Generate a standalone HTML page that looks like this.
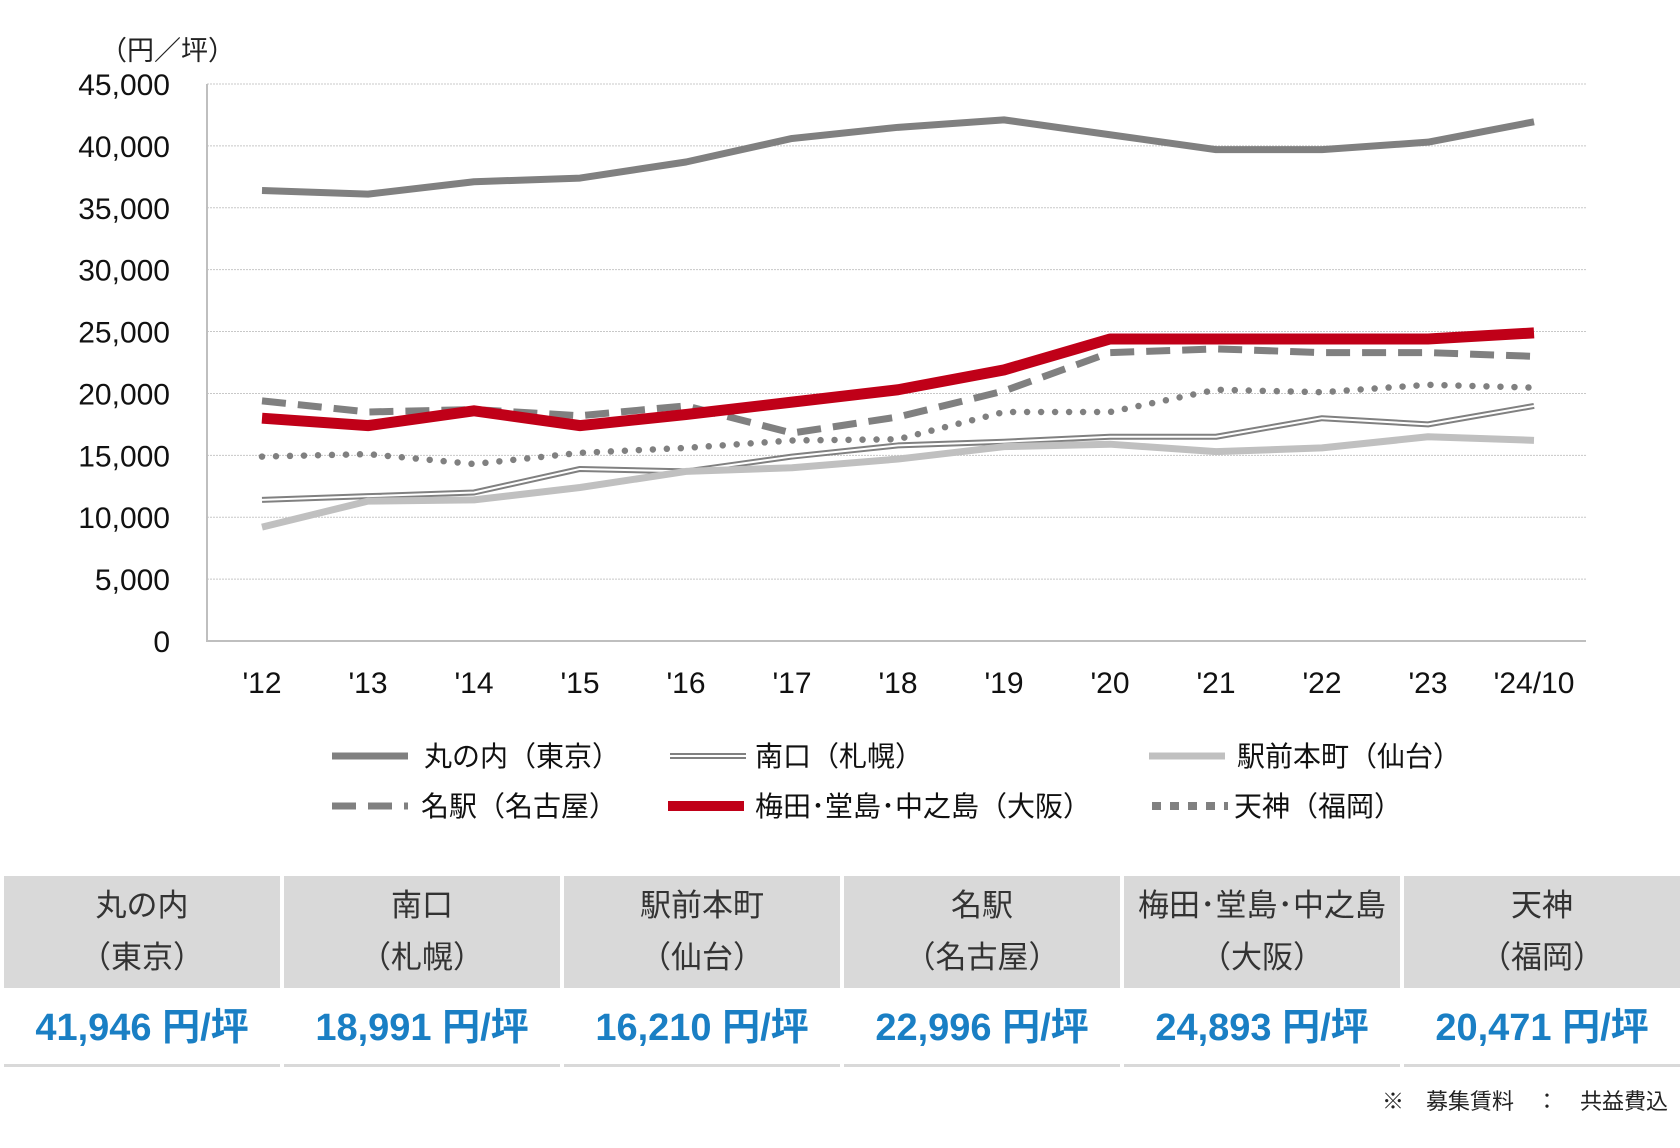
<!DOCTYPE html>
<html><head><meta charset="utf-8">
<style>
body{margin:0;width:1680px;height:1148px;background:#fff;font-family:"Liberation Sans","Noto Sans CJK JP",sans-serif;overflow:hidden;position:relative}
svg{position:absolute;left:0;top:0}
.tbl{position:absolute;left:4px;top:876px;width:1676px;display:grid;grid-template-columns:repeat(6,1fr);column-gap:4px}
.h{background:#d9d9d9;height:112px;display:flex;flex-direction:column;align-items:center;justify-content:center;font-size:31px;color:#333;line-height:52px}
.v{height:62px;padding-bottom:10px;border-bottom:3px solid #d9d9d9;display:flex;align-items:center;justify-content:center;font-size:38px;font-weight:bold;color:#1a7fc4;margin-top:4px}
.note{position:absolute;right:12px;top:1084px;font-size:22px;color:#222}
</style></head><body>
<svg width="1680" height="870">
<g id="grid"></g><g id="ticks"></g><g id="lines"></g><g id="legend"></g>
<text x="100" y="60" font-size="27" fill="#222">（円／坪）</text>
</svg>
<div class="tbl">
<div class="h"><span>丸の内</span><span>（東京）</span></div>
<div class="h"><span>南口</span><span>（札幌）</span></div>
<div class="h"><span>駅前本町</span><span>（仙台）</span></div>
<div class="h"><span>名駅</span><span>（名古屋）</span></div>
<div class="h"><span>梅田･堂島･中之島</span><span>（大阪）</span></div>
<div class="h"><span>天神</span><span>（福岡）</span></div>
<div class="v">41,946 円/坪</div>
<div class="v">18,991 円/坪</div>
<div class="v">16,210 円/坪</div>
<div class="v">22,996 円/坪</div>
<div class="v">24,893 円/坪</div>
<div class="v">20,471 円/坪</div>
</div>
<div class="note">※　募集賃料　：　共益費込</div>
<script>
const categories=["'12","'13","'14","'15","'16","'17","'18","'19","'20","'21","'22","'23","'24/10"];
const yTicks=[0,5000,10000,15000,20000,25000,30000,35000,40000,45000];
const marunouchi=[36400,36100,37100,37400,38700,40600,41500,42100,40900,39700,39700,40300,41946];
const minamiguchi=[11400,11700,12000,13900,13700,14900,15800,16100,16500,16500,18000,17500,18991];
const ekimae=[9200,11300,11400,12400,13700,14000,14700,15700,15900,15300,15600,16500,16210];
const meieki=[19400,18500,18700,18200,19000,16800,18100,20200,23300,23600,23300,23300,22996];
const umeda=[18000,17400,18600,17400,18300,19300,20300,21900,24400,24400,24400,24400,24893];
const tenjin=[14900,15100,14300,15200,15600,16200,16300,18500,18500,20300,20100,20700,20471];
const NS="http://www.w3.org/2000/svg";
const X0=207,X1=1586,Y0=641,Y1=84,YMAX=45000;
const xs=i=>262+i*(1534-262)/(categories.length-1);
const ys=v=>Y0-(v/YMAX)*(Y0-Y1);
function mk(tag,attrs,parent){const e=document.createElementNS(NS,tag);for(const k in attrs)e.setAttribute(k,attrs[k]);parent.appendChild(e);return e;}
const grid=document.getElementById('grid'),ticks=document.getElementById('ticks'),lines=document.getElementById('lines'),legend=document.getElementById('legend');
yTicks.forEach(v=>{
  if(v>0){const g=mk('line',{x1:X0,x2:X1,y1:ys(v),y2:ys(v),stroke:'#c8c8c8','stroke-width':1,'stroke-dasharray':'2,1'},grid);
  
  }
  const t=mk('text',{x:170,y:ys(v)+11,'text-anchor':'end','font-size':30,fill:'#111'},ticks);
  t.textContent=v.toLocaleString('en-US');
  
  
});
const ax=mk('path',{d:`M${X0} ${Y1}V${Y0}H${X1}`,fill:'none',stroke:'#bfbfbf','stroke-width':2},grid);


categories.forEach((c,i)=>{
  const t=mk('text',{x:xs(i),y:693,'text-anchor':'middle','font-size':30,fill:'#111'},ticks);
  t.textContent=c;
  
  
});
const series=[
 {d:minamiguchi,s:[{stroke:'#808080',w:6},{stroke:'#fff',w:2}],n:'series-minamiguchi'},
 {d:ekimae,s:[{stroke:'#c0c0c0',w:7}],n:'series-ekimae'},
 {d:tenjin,s:[{stroke:'#808080',w:6.5,dash:'0,14',cap:'round'}],n:'series-tenjin'},
 {d:meieki,s:[{stroke:'#808080',w:7,dash:'24,12'}],n:'series-meieki'},
 {d:umeda,s:[{stroke:'#c00018',w:11}],n:'series-umeda'},
 {d:marunouchi,s:[{stroke:'#808080',w:7}],n:'series-marunouchi'}
];
series.forEach(se=>{
  const pts=se.d.map((v,i)=>`${xs(i)},${ys(v)}`).join(' ');
  se.s.forEach(st=>{
    const p=mk('polyline',{points:pts,fill:'none',stroke:st.stroke,'stroke-width':st.w,'stroke-linejoin':'round','stroke-linecap':st.cap||'butt'},lines);
    if(st.dash)p.setAttribute('stroke-dasharray',st.dash);
    
    
  });
});
const leg=[
 {x:332,y:756,lab:'丸の内（東京）',s:[{stroke:'#808080',w:7}],tx:424},
 {x:670,y:756,lab:'南口（札幌）',s:[{stroke:'#808080',w:6},{stroke:'#fff',w:2}],tx:755},
 {x:1149,y:756,lab:'駅前本町（仙台）',s:[{stroke:'#c0c0c0',w:7}],tx:1237},
 {x:332,y:806,lab:'名駅（名古屋）',s:[{stroke:'#808080',w:7,dash:'24,12'}],tx:421},
 {x:668,y:806,lab:'梅田･堂島･中之島（大阪）',s:[{stroke:'#c00018',w:10}],tx:755},
 {x:1152,y:806,lab:'天神（福岡）',s:[{stroke:'#808080',w:8,dash:'9,9'}],tx:1234}
];
leg.forEach(l=>{
  l.s.forEach(st=>{
    const p=mk('line',{x1:l.x,x2:l.x+76,y1:l.y,y2:l.y,stroke:st.stroke,'stroke-width':st.w},legend);
    if(st.dash)p.setAttribute('stroke-dasharray',st.dash);
    
    
  });
  const t=mk('text',{x:l.tx,y:l.y+10,'font-size':28,fill:'#111'},legend);
  t.textContent=l.lab;
  
  
});
</script>
</body></html>
